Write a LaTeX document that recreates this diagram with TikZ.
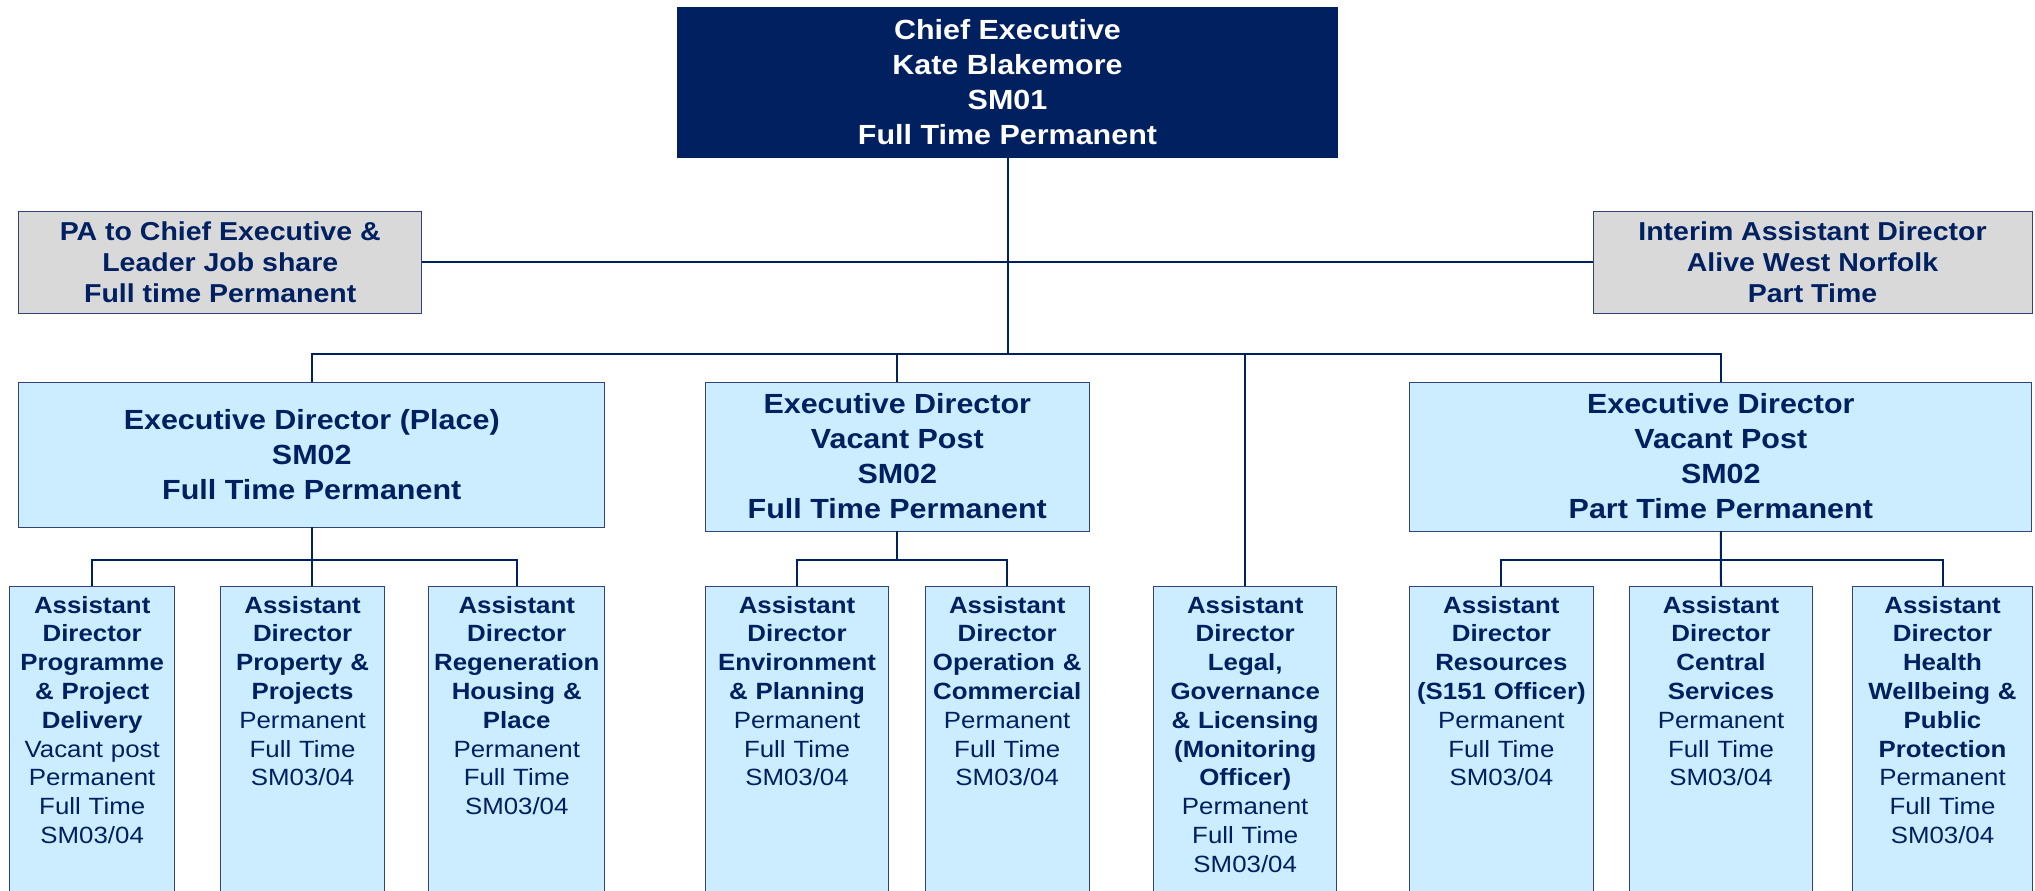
\documentclass[tikz,border=0pt]{standalone}
\usepackage{fontspec}
\setmainfont{Liberation Sans}[FakeStretch=1.1]
\usetikzlibrary{positioning}
\definecolor{orgnavy}{RGB}{0,32,96}
\definecolor{orgblue}{RGB}{204,236,255}
\definecolor{orggrey}{RGB}{217,217,217}
\definecolor{orgedge}{RGB}{50,66,122}

\begin{document}
\begin{tikzpicture}[x=0.5pt,y=-0.5pt,
    chiefbox/.style={draw=orgnavy, fill=orgnavy, text=white, anchor=north west, align=center, inner sep=0pt, outer sep=0pt, font=\fontsize{13.85}{17.5}\selectfont\bfseries},
    sidebox/.style={draw=orgedge, line width=0.5pt, fill=orggrey, text=orgnavy, anchor=north west, align=center, inner sep=0pt, outer sep=0pt, font=\fontsize{12.95}{15.6}\selectfont\bfseries},
    execbox/.style={draw=orgedge, line width=0.5pt, fill=orgblue, text=orgnavy, anchor=north west, align=center, inner sep=0pt, outer sep=0pt, font=\fontsize{13.85}{17.5}\selectfont\bfseries},
    adbox/.style={draw=orgedge, line width=0.5pt, fill=orgblue, text=orgnavy, anchor=north, align=center, inner xsep=2pt, inner ysep=5pt, outer sep=0pt, text depth=170pt, font=\fontsize{11.75}{14.4}\selectfont},
    orgline/.style={draw=orgnavy, line width=1pt}]
            \useasboundingbox (0,0) rectangle (2035,890);
            \clip (0,0) rectangle (2035,890);

            % top row
            \node[chiefbox, minimum width=330pt, minimum height=75pt](chief-exec) at (677.5,7){Chief Executive\\Kate Blakemore\\SM01\\Full Time Permanent};
            \node[sidebox, minimum width=201.5pt, minimum height=51pt](pa-chief) at (18.75,211){PA to Chief Executive \&\\Leader Job share\\Full time Permanent};
            \node[sidebox, minimum width=219.5pt, minimum height=51pt](interim-ad) at (1593,211){Interim Assistant Director\\Alive West Norfolk\\Part Time};

            % executive directors
            \node[execbox, minimum width=293pt, minimum height=72.5pt](ed-place) at (18.75,382){Executive Director (Place)\\SM02\\Full Time Permanent};
            \node[execbox, minimum width=192.3pt, minimum height=74.5pt](ed-vacant-a) at (705,382){Executive Director\\Vacant Post\\SM02\\Full Time Permanent};
            \node[execbox, minimum width=311pt, minimum height=74.5pt](ed-vacant-b) at (1409.8,382){Executive Director\\Vacant Post\\SM02\\Part Time Permanent};

            % assistant directors
            \node[adbox, text width=78.4pt](ad-prog) at (92.2,586){{\bfseries Assistant\\Director\\Programme\\\& Project\\Delivery}\\Vacant post\\Permanent\\Full Time\\SM03/04};
            \node[adbox, text width=78.1pt](ad-prop) at (302.6,586){{\bfseries Assistant\\Director\\Property \&\\Projects}\\Permanent\\Full Time\\SM03/04};
            \node[adbox, text width=83.8pt](ad-regen) at (516.75,586){{\bfseries Assistant\\Director\\Regeneration\\Housing \&\\Place}\\Permanent\\Full Time\\SM03/04};
            \node[adbox, text width=87.5pt](ad-env) at (797,586){{\bfseries Assistant\\Director\\Environment\\\& Planning}\\Permanent\\Full Time\\SM03/04};
            \node[adbox, text width=78.2pt](ad-oper) at (1007.2,586){{\bfseries Assistant\\Director\\Operation \&\\Commercial}\\Permanent\\Full Time\\SM03/04};
            \node[adbox, text width=87.5pt](ad-legal) at (1245.2,586){{\bfseries Assistant\\Director\\Legal,\\Governance\\\& Licensing\\(Monitoring\\Officer)}\\Permanent\\Full Time\\SM03/04};
            \node[adbox, text width=87.6pt](ad-res) at (1501.4,586){{\bfseries Assistant\\Director\\Resources\\(S151 Officer)}\\Permanent\\Full Time\\SM03/04};
            \node[adbox, text width=87.6pt](ad-central) at (1721,586){{\bfseries Assistant\\Director\\Central\\Services}\\Permanent\\Full Time\\SM03/04};
            \node[adbox, text width=86pt](ad-health) at (1942.5,586){{\bfseries Assistant\\Director\\Health\\Wellbeing \&\\Public\\Protection}\\Permanent\\Full Time\\SM03/04};

            % lines
            \path (chief-exec.south) ++(0,197) coordinate (ceo-bus);
            \draw[orgline](chief-exec.south)--(ceo-bus);
            \draw[orgline](pa-chief.east)--(interim-ad.west);
            \draw[orgline](ed-place.north) |- (ceo-bus) -| (ed-vacant-b.north);
            \draw[orgline](ed-vacant-a.north)--(ed-vacant-a.north |- ceo-bus);
            \draw[orgline](ad-legal.north)--(ad-legal.north |- ceo-bus);

            \path (ed-place.south) ++(0,33) coordinate (place-bus);
            \draw[orgline](ad-prog.north) |- (place-bus) -| (ad-regen.north);
            \draw[orgline](ed-place.south)--(place-bus |- ad-prop.north);

            \path (ed-vacant-a.south) ++(0,28.5) coordinate (vacant-a-bus);
            \draw[orgline](ad-env.north) |- (vacant-a-bus) -| (ad-oper.north);
            \draw[orgline](ed-vacant-a.south)--(vacant-a-bus);

            \path (ed-vacant-b.south) ++(0,28.5) coordinate (vacant-b-bus);
            \draw[orgline](ad-res.north) |- (vacant-b-bus) -| (ad-health.north);
            \draw[orgline](ed-vacant-b.south)--(ad-central.north);
        \end{tikzpicture}
\end{document}
